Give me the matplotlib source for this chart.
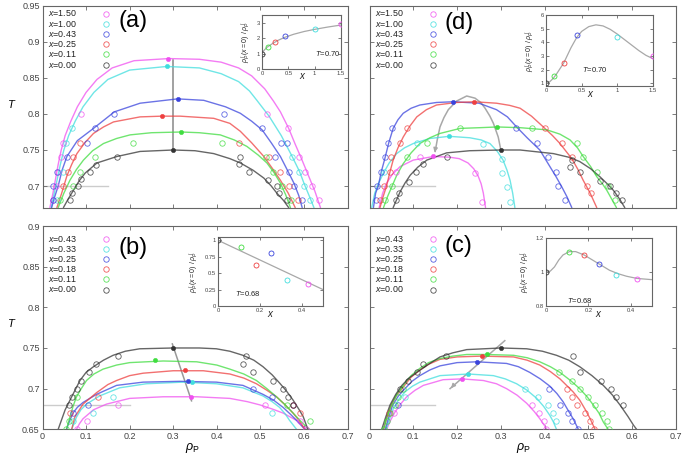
import matplotlib
matplotlib.use('Agg')
import matplotlib.pyplot as plt
from matplotlib.lines import Line2D

plt.rcParams['font.family'] = ['Liberation Sans', 'DejaVu Sans']
plt.rcParams['mathtext.fontset'] = 'custom'
plt.rcParams['mathtext.rm'] = 'Liberation Sans'
plt.rcParams['mathtext.it'] = 'Liberation Sans:italic'

W, H = 685, 463

# ---------------- data ----------------
series_colors = ['#f050f0', '#40dede', '#3a44dd', '#ee4040', '#40dd40', '#333333']
labels_ad = ['1.50', '1.00', '0.43', '0.25', '0.11', '0.00']
labels_bc = ['0.43', '0.33', '0.25', '0.18', '0.11', '0.00']

# Panel (a): fitted coexistence curves (rho_P, T)
a_mag_line = [(0.017,0.67),(0.024,0.69),(0.03,0.71),(0.036,0.73),(0.043,0.75),(0.052,0.77),(0.065,0.79),(0.08,0.81),(0.10,0.83),(0.125,0.848),(0.16,0.864),(0.21,0.874),(0.29,0.877),(0.36,0.876),(0.41,0.872),(0.45,0.864),(0.48,0.853),(0.51,0.835),(0.53,0.818),(0.546,0.803),(0.565,0.78),(0.58,0.758),(0.595,0.737),(0.61,0.715),(0.625,0.693),(0.638,0.67)]
a_cya_line = [(0.02,0.67),(0.027,0.69),(0.034,0.71),(0.041,0.73),(0.049,0.75),(0.06,0.77),(0.075,0.79),(0.093,0.81),(0.118,0.83),(0.15,0.848),(0.2,0.861),(0.285,0.866),(0.36,0.864),(0.41,0.856),(0.45,0.845),(0.475,0.832),(0.492,0.819),(0.52,0.797),(0.548,0.77),(0.573,0.741),(0.59,0.72),(0.6,0.704),(0.613,0.685),(0.623,0.67)]
a_blu_line = [(0.021,0.67),(0.028,0.685),(0.036,0.70),(0.045,0.722),(0.056,0.741),(0.08,0.763),(0.117,0.78),(0.165,0.803),(0.224,0.815),(0.31,0.821),(0.37,0.819),(0.42,0.81),(0.454,0.801),(0.48,0.79),(0.504,0.778),(0.525,0.76),(0.546,0.741),(0.562,0.722),(0.577,0.704),(0.588,0.687),(0.596,0.67)]
a_red_line = [(0.033,0.67),(0.044,0.69),(0.056,0.714),(0.067,0.73),(0.079,0.745),(0.097,0.76),(0.117,0.773),(0.14,0.782),(0.163,0.789),(0.224,0.796),(0.274,0.797),(0.316,0.797),(0.393,0.794),(0.43,0.787),(0.454,0.776),(0.48,0.76),(0.508,0.741),(0.528,0.724),(0.546,0.708),(0.564,0.69),(0.58,0.67)]
a_grn_line = [(0.036,0.67),(0.049,0.69),(0.063,0.708),(0.078,0.723),(0.094,0.736),(0.115,0.749),(0.14,0.759),(0.17,0.766),(0.201,0.771),(0.25,0.774),(0.318,0.775),(0.36,0.774),(0.408,0.771),(0.44,0.764),(0.469,0.755),(0.495,0.743),(0.515,0.732),(0.532,0.718),(0.546,0.704),(0.558,0.688),(0.569,0.67)]
a_blk_line = [(0.048,0.67),(0.059,0.682),(0.071,0.694),(0.084,0.707),(0.098,0.718),(0.125,0.732),(0.171,0.741),(0.224,0.748),(0.30,0.75),(0.35,0.749),(0.393,0.745),(0.43,0.738),(0.454,0.732),(0.483,0.722),(0.508,0.711),(0.525,0.70),(0.538,0.69),(0.553,0.68),(0.565,0.67)]
# Panel (a): simulation points
a_mag_pts = [(0.088,0.80),(0.046,0.76),(0.042,0.74),(0.036,0.72),(0.03,0.70),(0.025,0.68),(0.515,0.80),(0.563,0.78),(0.588,0.74),(0.603,0.72),(0.619,0.70),(0.634,0.68)]
a_cya_pts = [(0.067,0.78),(0.054,0.76),(0.048,0.72),(0.033,0.68),(0.573,0.74),(0.588,0.72),(0.60,0.70),(0.615,0.68)]
a_blu_pts = [(0.165,0.80),(0.121,0.78),(0.102,0.76),(0.056,0.74),(0.033,0.72),(0.025,0.70),(0.023,0.68),(0.416,0.80),(0.504,0.78),(0.547,0.76),(0.56,0.76),(0.534,0.74),(0.565,0.72),(0.577,0.70),(0.596,0.68)]
a_red_pts = [(0.085,0.76),(0.071,0.74),(0.059,0.72),(0.046,0.70),(0.45,0.76),(0.52,0.74),(0.546,0.72),(0.565,0.70),(0.586,0.68)]
a_grn_pts = [(0.207,0.76),(0.121,0.74),(0.085,0.72),(0.07,0.70),(0.04,0.68),(0.412,0.76),(0.513,0.74),(0.53,0.72),(0.549,0.70),(0.571,0.68)]
a_blk_pts = [(0.172,0.74),(0.123,0.729),(0.108,0.72),(0.088,0.71),(0.081,0.70),(0.067,0.69),(0.063,0.68),(0.454,0.74),(0.45,0.73),(0.473,0.72),(0.517,0.709),(0.538,0.70),(0.542,0.69),(0.56,0.68)]
a_crit = [(0.289,0.877),(0.285,0.866),(0.31,0.821),(0.274,0.797),(0.318,0.775),(0.30,0.75)]
a_path = [(0.30,0.75),(0.30,0.875)]

# Panel (d)
d_mag_line = [(0.022,0.67),(0.03,0.69),(0.039,0.704),(0.052,0.716),(0.07,0.727),(0.1,0.736),(0.146,0.741),(0.183,0.74),(0.205,0.738),(0.225,0.732),(0.238,0.724),(0.248,0.714),(0.255,0.703),(0.26,0.69),(0.265,0.67)]
d_cya_line = [(0.005,0.67),(0.012,0.69),(0.02,0.703),(0.032,0.718),(0.045,0.732),(0.062,0.745),(0.08,0.753),(0.1,0.759),(0.138,0.766),(0.182,0.769),(0.229,0.767),(0.255,0.764),(0.275,0.759),(0.292,0.748),(0.305,0.736),(0.314,0.722),(0.321,0.708),(0.327,0.69),(0.332,0.67)]
d_blu_line = [(0.009,0.67),(0.014,0.69),(0.02,0.70),(0.027,0.72),(0.035,0.738),(0.044,0.76),(0.054,0.78),(0.065,0.792),(0.077,0.801),(0.095,0.808),(0.115,0.8125),(0.153,0.816),(0.191,0.817),(0.25,0.815),(0.29,0.806),(0.315,0.796),(0.336,0.782),(0.36,0.767),(0.389,0.75),(0.412,0.727),(0.426,0.713),(0.439,0.699),(0.451,0.685),(0.462,0.67)]
d_red_line = [(0.024,0.67),(0.031,0.685),(0.039,0.70),(0.046,0.718),(0.054,0.736),(0.065,0.753),(0.077,0.768),(0.092,0.783),(0.108,0.796),(0.13,0.806),(0.153,0.8125),(0.199,0.816),(0.239,0.817),(0.29,0.815),(0.32,0.812),(0.344,0.808),(0.37,0.797),(0.397,0.782),(0.418,0.77),(0.435,0.759),(0.462,0.738),(0.476,0.723),(0.488,0.708),(0.504,0.69),(0.519,0.67)]
d_grn_line = [(0.032,0.67),(0.041,0.685),(0.051,0.699),(0.063,0.716),(0.077,0.731),(0.095,0.746),(0.115,0.759),(0.138,0.767),(0.161,0.773),(0.207,0.78),(0.252,0.781),(0.292,0.782),(0.344,0.781),(0.405,0.778),(0.435,0.772),(0.458,0.764),(0.475,0.753),(0.488,0.741),(0.505,0.727),(0.519,0.713),(0.532,0.703),(0.542,0.694),(0.553,0.682),(0.564,0.67)]
d_blk_line = [(0.054,0.67),(0.062,0.681),(0.07,0.692),(0.081,0.704),(0.093,0.715),(0.11,0.726),(0.131,0.736),(0.176,0.746),(0.229,0.749),(0.30,0.75),(0.344,0.75),(0.42,0.745),(0.455,0.74),(0.48,0.734),(0.505,0.724),(0.526,0.713),(0.543,0.703),(0.557,0.694),(0.571,0.682),(0.583,0.67)]
d_mag_pts = [(0.115,0.74),(0.06,0.72),(0.241,0.718),(0.256,0.678)]
d_cya_pts = [(0.108,0.76),(0.032,0.72),(0.26,0.759),(0.302,0.738),(0.302,0.718),(0.313,0.699),(0.321,0.678)]
d_blu_pts = [(0.052,0.78),(0.042,0.76),(0.035,0.74),(0.027,0.72),(0.016,0.70),(0.015,0.68),(0.334,0.78),(0.382,0.76),(0.408,0.74),(0.427,0.72),(0.431,0.70),(0.446,0.68)]
d_red_pts = [(0.085,0.78),(0.07,0.76),(0.05,0.74),(0.047,0.72),(0.033,0.70),(0.024,0.68),(0.401,0.78),(0.439,0.76),(0.462,0.74),(0.496,0.70),(0.505,0.69)]
d_grn_pts = [(0.207,0.78),(0.131,0.76),(0.085,0.74),(0.051,0.70),(0.036,0.68),(0.371,0.78),(0.473,0.76),(0.488,0.74),(0.52,0.72),(0.545,0.70),(0.56,0.68)]
d_blk_pts = [(0.176,0.74),(0.123,0.73),(0.107,0.72),(0.09,0.705),(0.068,0.69),(0.06,0.68),(0.462,0.736),(0.458,0.727),(0.481,0.72),(0.526,0.707),(0.549,0.70),(0.564,0.69),(0.576,0.68)]
d_crit = [(0.146,0.741),(0.182,0.769),(0.191,0.817),(0.239,0.817),(0.292,0.782),(0.301,0.75)]
d_path = [(0.15,0.748),(0.155,0.765),(0.161,0.782),(0.17,0.795),(0.18,0.806),(0.199,0.818),(0.222,0.825),(0.241,0.822),(0.254,0.816),(0.264,0.808),(0.275,0.797),(0.283,0.787),(0.294,0.768),(0.30,0.75)]

# Panel (b)
b_mag_line = [(0.078,0.65),(0.085,0.657),(0.093,0.663),(0.117,0.674),(0.147,0.681),(0.2,0.688),(0.277,0.69),(0.354,0.69),(0.43,0.688),(0.47,0.684),(0.499,0.68),(0.527,0.675),(0.552,0.67),(0.583,0.661),(0.606,0.65)]
b_cya_line = [(0.067,0.65),(0.078,0.665),(0.088,0.674),(0.101,0.681),(0.131,0.691),(0.177,0.701),(0.238,0.706),(0.323,0.708),(0.399,0.706),(0.46,0.701),(0.506,0.691),(0.527,0.684),(0.544,0.677),(0.557,0.669),(0.567,0.661),(0.583,0.65)]
b_blu_line = [(0.055,0.65),(0.062,0.66),(0.07,0.67),(0.08,0.677),(0.093,0.683),(0.124,0.693),(0.17,0.704),(0.231,0.708),(0.315,0.709),(0.399,0.708),(0.46,0.704),(0.506,0.693),(0.53,0.686),(0.552,0.677),(0.57,0.668),(0.583,0.661),(0.602,0.65)]
b_red_line = [(0.067,0.65),(0.074,0.665),(0.093,0.681),(0.124,0.695),(0.15,0.705),(0.17,0.71),(0.2,0.716),(0.231,0.719),(0.30,0.722),(0.369,0.722),(0.43,0.718),(0.462,0.713),(0.491,0.706),(0.515,0.698),(0.537,0.69),(0.557,0.68),(0.575,0.67),(0.59,0.66),(0.602,0.65)]
b_grn_line = [(0.055,0.65),(0.063,0.665),(0.07,0.678),(0.078,0.69),(0.089,0.70),(0.101,0.71),(0.118,0.718),(0.139,0.724),(0.17,0.729),(0.2,0.732),(0.277,0.734),(0.354,0.733),(0.4,0.729),(0.43,0.724),(0.462,0.718),(0.491,0.71),(0.515,0.70),(0.537,0.69),(0.557,0.68),(0.575,0.67),(0.598,0.657),(0.613,0.65)]
b_blk_line = [(0.036,0.65),(0.044,0.662),(0.052,0.674),(0.067,0.69),(0.086,0.71),(0.1,0.72),(0.117,0.727),(0.14,0.735),(0.162,0.741),(0.19,0.746),(0.223,0.749),(0.30,0.75),(0.36,0.75),(0.399,0.749),(0.43,0.746),(0.46,0.741),(0.485,0.735),(0.506,0.727),(0.527,0.717),(0.544,0.707),(0.56,0.697),(0.575,0.686),(0.588,0.675),(0.598,0.666),(0.609,0.65)]
b_mag_pts = [(0.174,0.68),(0.101,0.66),(0.08,0.65),(0.51,0.68),(0.59,0.66),(0.604,0.65)]
b_cya_pts = [(0.161,0.69),(0.117,0.67),(0.071,0.66),(0.526,0.67)]
b_blu_pts = [(0.105,0.68),(0.07,0.67),(0.484,0.70),(0.526,0.69),(0.575,0.68)]
b_red_pts = [(0.127,0.69),(0.062,0.67),(0.575,0.68),(0.59,0.67)]
b_grn_pts = [(0.08,0.69),(0.061,0.66),(0.055,0.65),(0.56,0.68),(0.614,0.66)]
b_blk_pts = [(0.174,0.74),(0.122,0.73),(0.107,0.72),(0.088,0.71),(0.08,0.70),(0.067,0.69),(0.061,0.68),(0.467,0.74),(0.461,0.73),(0.484,0.72),(0.529,0.71),(0.552,0.70),(0.564,0.69),(0.575,0.68)]
b_crit = [(0.34,0.69),(0.344,0.708),(0.333,0.71),(0.328,0.723),(0.258,0.735),(0.30,0.75)]
b_path = [(0.298,0.755),(0.342,0.685)]

# Panel (c)
c_mag_line = [(0.039,0.65),(0.048,0.661),(0.058,0.671),(0.071,0.681),(0.085,0.69),(0.104,0.698),(0.123,0.704),(0.168,0.711),(0.211,0.712),(0.26,0.71),(0.29,0.706),(0.313,0.70),(0.337,0.692),(0.359,0.682),(0.376,0.672),(0.389,0.663),(0.398,0.656),(0.405,0.65)]
c_cya_line = [(0.038,0.65),(0.046,0.663),(0.054,0.675),(0.067,0.687),(0.081,0.696),(0.098,0.703),(0.115,0.708),(0.161,0.716),(0.226,0.718),(0.283,0.716),(0.31,0.712),(0.336,0.706),(0.36,0.698),(0.382,0.688),(0.398,0.678),(0.412,0.667),(0.42,0.659),(0.427,0.65)]
c_blu_line = [(0.036,0.65),(0.044,0.665),(0.053,0.68),(0.066,0.691),(0.081,0.70),(0.097,0.709),(0.115,0.716),(0.138,0.723),(0.161,0.728),(0.2,0.732),(0.245,0.733),(0.313,0.731),(0.34,0.727),(0.366,0.72),(0.39,0.712),(0.412,0.703),(0.428,0.694),(0.442,0.684),(0.455,0.672),(0.465,0.663),(0.477,0.65)]
c_red_line = [(0.032,0.65),(0.04,0.665),(0.05,0.68),(0.062,0.692),(0.077,0.702),(0.095,0.714),(0.115,0.723),(0.135,0.73),(0.161,0.736),(0.2,0.739),(0.256,0.74),(0.329,0.739),(0.36,0.735),(0.389,0.729),(0.413,0.721),(0.435,0.712),(0.452,0.703),(0.465,0.696),(0.48,0.686),(0.492,0.675),(0.504,0.663),(0.515,0.65)]
c_grn_line = [(0.032,0.65),(0.04,0.665),(0.05,0.68),(0.062,0.693),(0.077,0.704),(0.095,0.716),(0.115,0.725),(0.135,0.732),(0.161,0.737),(0.19,0.74),(0.222,0.742),(0.268,0.742),(0.329,0.741),(0.36,0.738),(0.389,0.733),(0.413,0.727),(0.435,0.72),(0.459,0.71),(0.48,0.70),(0.497,0.69),(0.511,0.68),(0.524,0.67),(0.534,0.659),(0.545,0.65)]
c_blk_line = [(0.028,0.65),(0.037,0.665),(0.047,0.68),(0.06,0.693),(0.074,0.704),(0.09,0.713),(0.108,0.72),(0.135,0.73),(0.161,0.739),(0.19,0.744),(0.222,0.748),(0.30,0.75),(0.359,0.749),(0.395,0.746),(0.427,0.741),(0.455,0.735),(0.48,0.727),(0.508,0.716),(0.534,0.704),(0.555,0.692),(0.572,0.68),(0.59,0.666),(0.603,0.655),(0.61,0.65)]
c_mag_pts = [(0.055,0.67),(0.372,0.68),(0.387,0.67),(0.398,0.66),(0.404,0.65)]
c_cya_pts = [(0.081,0.69),(0.355,0.70),(0.385,0.69),(0.408,0.68),(0.42,0.67),(0.426,0.66)]
c_blu_pts = [(0.066,0.68),(0.411,0.70),(0.435,0.68),(0.454,0.67),(0.462,0.66),(0.477,0.65)]
c_red_pts = [(0.045,0.67),(0.45,0.70),(0.462,0.69),(0.473,0.68),(0.492,0.67),(0.503,0.66),(0.512,0.65)]
c_grn_pts = [(0.077,0.70),(0.066,0.69),(0.058,0.68),(0.047,0.67),(0.039,0.66),(0.032,0.65),(0.433,0.72),(0.462,0.71),(0.481,0.70),(0.5,0.69),(0.515,0.68),(0.53,0.67),(0.542,0.66),(0.548,0.65)]
c_blk_pts = [(0.175,0.74),(0.123,0.73),(0.108,0.72),(0.089,0.71),(0.07,0.70),(0.464,0.74),(0.48,0.72),(0.528,0.71),(0.551,0.70),(0.563,0.69),(0.578,0.68)]
c_crit = [(0.211,0.712),(0.226,0.718),(0.245,0.733),(0.256,0.74),(0.268,0.742),(0.301,0.75)]
c_path = [(0.309,0.759),(0.184,0.70)]

# Insets: ratio of densities vs x
ins_a_x = [0, 0.11, 0.25, 0.43, 1.0, 1.5]
ins_a_y = [1.0, 1.45, 1.75, 2.15, 2.6, 2.9]
ins_a_fit_x = [0, 0.05, 0.1, 0.2, 0.3, 0.43, 0.6, 0.8, 1.0, 1.25, 1.5]
ins_a_fit_y = [1.05, 1.25, 1.42, 1.65, 1.85, 2.05, 2.25, 2.43, 2.57, 2.72, 2.85]
ins_d_x = [0, 0.11, 0.25, 0.43, 1.0, 1.5]
ins_d_y = [1.0, 1.55, 2.45, 4.5, 4.4, 3.0]
ins_d_fit_x = [0, 0.05, 0.1, 0.15, 0.2, 0.25, 0.3, 0.35, 0.43, 0.5, 0.6, 0.7, 0.8, 0.9, 1.0, 1.1, 1.2, 1.3, 1.4, 1.5]
ins_d_fit_y = [1.0, 1.1, 1.35, 1.7, 2.1, 2.5, 3.05, 3.6, 4.35, 4.8, 5.15, 5.28, 5.2, 4.95, 4.6, 4.2, 3.8, 3.4, 3.05, 2.8]
ins_b_x = [0, 0.11, 0.18, 0.25, 0.33, 0.43]
ins_b_y = [1.0, 0.9, 0.62, 0.81, 0.4, 0.33]
ins_b_fit_x = [0, 0.5]
ins_b_fit_y = [1.0, 0.25]
ins_c_x = [0, 0.11, 0.18, 0.25, 0.33, 0.43]
ins_c_y = [1.0, 1.12, 1.10, 1.045, 0.985, 0.96]
ins_c_fit_x = [0, 0.02, 0.04, 0.06, 0.08, 0.11, 0.14, 0.18, 0.22, 0.26, 0.3, 0.34, 0.38, 0.43, 0.5]
ins_c_fit_y = [1.0, 1.005, 1.03, 1.07, 1.1, 1.12, 1.12, 1.1, 1.07, 1.04, 1.01, 0.99, 0.975, 0.962, 0.955]

# ---------------- drawing ----------------
fig = plt.figure(figsize=(6.85, 4.63), dpi=100)
GRAY = '#a8a8a8'
FRAME = '#666666'
TICKC = '#444444'


def ax_px(l, t, r, b):
    return fig.add_axes([l / W, 1 - b / H, (r - l) / W, (b - t) / H])


def style(ax, fs):
    for s in ax.spines.values():
        s.set_color(FRAME)
        s.set_linewidth(0.8)
    ax.tick_params(direction='in', top=True, right=True, length=3, width=0.6,
                   colors=FRAME, labelcolor=TICKC, labelsize=fs, pad=2)


def main_panel(ax, lines, pts, crit, ylim):
    ax.set_xlim(0, 0.7)
    ax.set_ylim(*ylim)
    for ln, pp, cp, col in zip(lines, pts, crit, series_colors):
        ax.plot([p[0] for p in ln], [p[1] for p in ln], color=col, lw=1.0, alpha=0.75,
                solid_capstyle='round', zorder=2)
        ax.plot([p[0] for p in pp], [p[1] for p in pp], ls='none', marker='o', ms=3.9,
                mfc='none', mec=col, mew=0.6, alpha=0.8, zorder=3)
        ax.plot([cp[0]], [cp[1]], ls='none', marker='o', ms=3.2, mfc=col, mec=col,
                mew=0.3, zorder=4)
    ax.set_xticks([0, 0.1, 0.2, 0.3, 0.4, 0.5, 0.6, 0.7])
    style(ax, 6.5)


def legend(labels, xt, xm, y0):
    for i, (lab, col) in enumerate(zip(labels, series_colors)):
        y = y0 + 10.2 * i
        fig.text(xt / W, 1 - y / H, r'$x$=' + lab, fontsize=6.4, color='#222222',
                 va='center', ha='left')
        fig.add_artist(Line2D([xm / W], [1 - y / H], ls='none', marker='o', ms=3.9,
                              mfc='none', mec=col, mew=0.6, alpha=0.85))


def inset(l, t, r, b, xlim, ylim, xt, yt, xtl, ytl, px, py, fx, fy, ttxt, tpos, xlab_x):
    ax = ax_px(l, t, r, b)
    ax.set_xlim(*xlim)
    ax.set_ylim(*ylim)
    ax.plot(fx, fy, color=GRAY, lw=0.9, zorder=2)
    for xx, yy, col in zip(px, py, series_colors[::-1]):
        ax.plot([xx], [yy], ls='none', marker='o', ms=3.6, mfc='none', mec=col, mew=0.6,
                zorder=3)
    ax.set_xticks(xt)
    ax.set_xticklabels(xtl)
    ax.set_yticks(yt)
    ax.set_yticklabels(ytl)
    style(ax, 4.2)
    ax.tick_params(length=2, pad=1.5)
    ax.set_ylabel(r'$\rho_P^{\ l}\,(x{=}0)\ /\ \rho_P^{\ l}$', fontsize=5.0, labelpad=2.5,
                  color='#222222')
    ax.text(xlab_x, -0.04, r'$x$', transform=ax.transAxes, fontsize=7, ha='center',
            va='top', color='#222222')
    ax.text(tpos[0], tpos[1], ttxt, fontsize=5.5, ha='center', va='center',
            color='#222222')
    return ax


# Panel (a)
axa = ax_px(42.5, 6, 347.5, 207.6)
main_panel(axa, [a_mag_line, a_cya_line, a_blu_line, a_red_line, a_grn_line, a_blk_line],
           [a_mag_pts, a_cya_pts, a_blu_pts, a_red_pts, a_grn_pts, a_blk_pts], a_crit, (0.67, 0.95))
axa.plot([p[0] for p in a_path], [p[1] for p in a_path], color='#888888', lw=1.1, zorder=1)
axa.plot([0, 0.15], [0.70, 0.70], color='#cccccc', lw=1.0, zorder=1)
axa.set_yticks([0.7, 0.75, 0.8, 0.85, 0.9, 0.95])
axa.set_yticklabels(['0.7', '0.75', '0.8', '0.85', '0.9', '0.95'])
axa.set_xticklabels([])
axa.text(0.248, 0.925, '(a)', transform=axa.transAxes, fontsize=17, va='center', ha='left')

# Panel (d)
axd = ax_px(369.5, 6, 676, 207.6)
main_panel(axd, [d_mag_line, d_cya_line, d_blu_line, d_red_line, d_grn_line, d_blk_line],
           [d_mag_pts, d_cya_pts, d_blu_pts, d_red_pts, d_grn_pts, d_blk_pts], d_crit, (0.67, 0.95))
axd.plot([p[0] for p in d_path], [p[1] for p in d_path], color=GRAY, lw=1.1, zorder=1)
axd.annotate('', xy=(0.147, 0.743), xytext=(0.152, 0.756),
             arrowprops=dict(arrowstyle='-|>', color=GRAY, lw=1.0, mutation_scale=6))
axd.plot([0, 0.15], [0.70, 0.70], color='#cccccc', lw=1.0, zorder=1)
axd.set_yticks([0.7, 0.75, 0.8, 0.85, 0.9, 0.95])
axd.set_yticklabels([])
axd.set_xticklabels([])
axd.text(0.246, 0.915, '(d)', transform=axd.transAxes, fontsize=17, va='center', ha='left')

# Panel (b)
axb = ax_px(42.5, 226, 347.5, 429.3)
main_panel(axb, [b_mag_line, b_cya_line, b_blu_line, b_red_line, b_grn_line, b_blk_line],
           [b_mag_pts, b_cya_pts, b_blu_pts, b_red_pts, b_grn_pts, b_blk_pts], b_crit, (0.65, 0.90))
axb.plot([p[0] for p in b_path], [p[1] for p in b_path], color='#999999', lw=1.1, zorder=1)
axb.plot([0, 0.2], [0.68, 0.68], color='#cccccc', lw=1.0, zorder=1)
axb.set_yticks([0.65, 0.7, 0.75, 0.8, 0.85, 0.9])
axb.set_yticklabels(['0.65', '0.7', '0.75', '0.8', '0.85', '0.9'])
axb.set_xticklabels(['0', '0.1', '0.2', '0.3', '0.4', '0.5', '0.6', '0.7'])
axb.text(0.248, 0.892, '(b)', transform=axb.transAxes, fontsize=17, va='center', ha='left')

# Panel (c)
axc = ax_px(369.5, 226, 676, 429.3)
main_panel(axc, [c_mag_line, c_cya_line, c_blu_line, c_red_line, c_grn_line, c_blk_line],
           [c_mag_pts, c_cya_pts, c_blu_pts, c_red_pts, c_grn_pts, c_blk_pts], c_crit, (0.65, 0.90))
axc.plot([p[0] for p in c_path], [p[1] for p in c_path], color=GRAY, lw=1.1, zorder=1)
axc.annotate('', xy=(0.182, 0.698), xytext=(0.195, 0.706),
             arrowprops=dict(arrowstyle='-|>', color=GRAY, lw=1.0, mutation_scale=6))
axc.plot([0, 0.15], [0.68, 0.68], color='#cccccc', lw=1.0, zorder=1)
axc.set_yticks([0.65, 0.7, 0.75, 0.8, 0.85, 0.9])
axc.set_yticklabels([])
axc.set_xticklabels(['0', '0.1', '0.2', '0.3', '0.4', '0.5', '0.6', '0.7'])
axc.text(0.246, 0.90, '(c)', transform=axc.transAxes, fontsize=17, va='center', ha='left')

# Axis labels
fig.text(12 / W, 1 - 104 / H, r'$T$', fontsize=8, ha='center', va='center')
fig.text(12 / W, 1 - 323 / H, r'$T$', fontsize=8, ha='center', va='center')
fig.text(192 / W, 1 - 448 / H, r'$\rho_{\rm P}$', fontsize=9, ha='center', va='center')
fig.text(523 / W, 1 - 448 / H, r'$\rho_{\rm P}$', fontsize=9, ha='center', va='center')

# Legends
legend(labels_ad, 48, 106, 13.5)
legend(labels_ad, 375, 433, 13.5)
legend(labels_bc, 48, 106, 238.5)
legend(labels_bc, 375, 433, 238.5)

# Insets
inset(262, 15, 341, 69, (0, 1.5), (0, 3.5), [0, 0.5, 1, 1.5], [0, 1, 2, 3],
      ['0', '0.5', '1', '1.5'], ['0', '1', '2', '3'], ins_a_x, ins_a_y,
      ins_a_fit_x, ins_a_fit_y, r'$T$=0.70', (1.25, 1.0), 0.52)
inset(546, 15, 653, 86, (0, 1.5), (0.8, 6), [0, 0.5, 1, 1.5], [1, 2, 3, 4, 5, 6],
      ['0', '0.5', '1', '1.5'], ['1', '2', '3', '4', '5', '6'], ins_d_x, ins_d_y,
      ins_d_fit_x, ins_d_fit_y, r'$T$=0.70', (0.68, 2.0), 0.42)
inset(218, 237, 323, 306, (0, 0.5), (0, 1.05), [0, 0.2, 0.4], [0, 0.25, 0.5, 0.75, 1],
      ['0', '0.2', '0.4'], ['0', '0.25', '0.5', '0.75', '1'], ins_b_x, ins_b_y,
      ins_b_fit_x, ins_b_fit_y, r'$T$=0.68', (0.14, 0.19), 0.5)
inset(546, 238, 652, 306, (0, 0.5), (0.8, 1.2), [0, 0.2, 0.4], [0.8, 1.0, 1.2],
      ['0', '0.2', '0.4'], ['0.8', '1', '1.2'], ins_c_x, ins_c_y,
      ins_c_fit_x, ins_c_fit_y, r'$T$=0.68', (0.16, 0.835), 0.5)

fig.savefig('out.png', dpi=100)
